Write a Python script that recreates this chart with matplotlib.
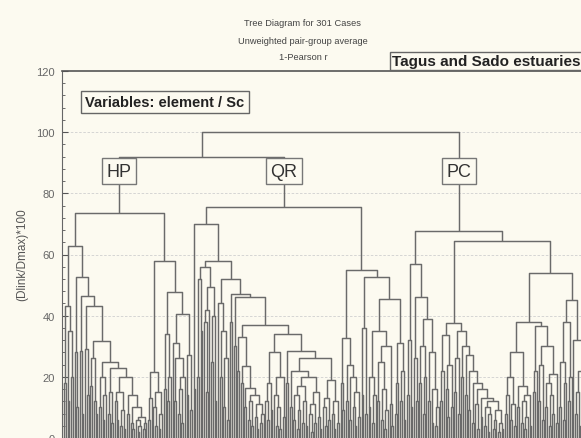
import matplotlib
matplotlib.use("Agg")
import matplotlib.pyplot as plt
import numpy as np
from matplotlib.collections import LineCollection
from matplotlib.ticker import MultipleLocator

plt.rcParams["font.family"] = ["Liberation Sans", "DejaVu Sans"]

# merge height between neighbouring leaves
hp_gaps = [18, 43, 12, 35, 20, 62.7, 28, 10, 52.6, 28.6,
           8, 46.5, 29, 14, 43, 17, 26, 12, 8, 31.8,
           10, 20, 6, 14, 25, 8, 15, 5, 23, 12,
           6, 15, 4, 9, 3, 20, 8, 14, 5, 3,
           10, 6, 2, 4, 7, 3, 5, 73.5, 6, 13,
           21.5, 10, 4, 15, 3, 8, 58, 16, 34, 12,
           20, 47.6, 31, 12, 26, 8, 16, 5, 20, 40.5,
           14, 27, 9]
qr_gaps = [16, 70, 20, 52, 35, 56, 38, 15, 42, 49.5,
           25, 40, 12, 58, 44, 20, 35, 10, 26, 6,
           52, 38, 47, 30, 46, 22, 33, 18, 23.5, 10,
           16.5, 6, 12, 4, 14, 7, 3, 11, 5, 8,
           37, 12, 6, 18, 9, 28, 14, 4, 10, 3,
           20, 7, 34, 18, 28.5, 10, 22, 6, 14, 3,
           9, 17, 5, 12, 4, 20, 8, 2, 11, 5,
           15, 7, 3, 26, 10, 4, 13, 6, 19, 8,
           3, 12, 5, 75.5, 18, 9, 32.7, 12, 24, 6,
           20, 10, 4, 15, 7, 55, 14, 36, 8, 52.6,
           10, 20, 5, 14, 35, 12, 25, 6, 16, 3,
           9, 30, 11, 4, 45.4, 8, 18, 31, 12, 22,
           6]
pc_gaps = [14, 32, 10, 57, 26, 12, 46, 18, 30, 8,
           20, 39, 12, 28, 5, 16, 4, 10, 67.6, 12,
           22, 33.6, 16, 7, 24, 10, 37.6, 15, 26, 8,
           35, 20, 30, 14, 27, 9, 22, 5, 18, 11,
           3, 16, 7, 13, 4, 10, 2, 8, 12, 3,
           6, 9, 2, 5, 3, 64.4, 8, 14, 20, 6,
           11, 4, 28, 10, 17, 5, 12, 3, 7, 14,
           4, 38, 15, 22, 36.6, 12, 24, 6, 30, 10,
           18, 4, 14, 8, 21, 5, 54, 10, 25, 6,
           18, 38, 12, 20, 45, 32, 8, 15, 4, 22,
           10, 3, 12, 6]
group_gaps = [92, 100]
group_labels = ["HP", "QR", "PC"]
title_lines = ["Tree Diagram for 301 Cases", "Unweighted pair-group average", "1-Pearson r"]

gaps = hp_gaps + [group_gaps[0]] + qr_gaps + [group_gaps[1]] + pc_gaps
n_leaves = len(gaps) + 1

segments = []
centers = {}


def build(lo, hi):
    if lo == hi:
        return float(lo), 0.0
    k = lo + int(np.argmax(gaps[lo:hi]))
    xl, hl = build(lo, k)
    xr, hr = build(k + 1, hi)
    h = gaps[k]
    segments.append([(xl, hl), (xl, h), (xr, h), (xr, hr)])
    centers[(lo, hi)] = (xl + xr) / 2
    return (xl + xr) / 2, h


build(0, n_leaves - 1)

bg = "#fcfaf0"
fig = plt.figure(figsize=(5.81, 4.39), dpi=100, facecolor=bg)
ax = fig.add_axes([62 / 581, 0, 540 / 581, 367 / 439], facecolor=bg)

ax.add_collection(LineCollection(segments, colors="#6a6a6a", linewidths=1.05, zorder=3))

x0 = -2 / 1.75
ax.set_xlim(x0, x0 + 540 / 1.75)
ax.set_ylim(0, 120)

ax.yaxis.set_major_locator(MultipleLocator(20))
ax.yaxis.set_minor_locator(MultipleLocator(4))
ax.tick_params(axis="y", which="both", direction="in", colors="#555555",
               labelsize=8, labelcolor="#666666", pad=5)
ax.tick_params(axis="y", which="major", length=4)
ax.tick_params(axis="y", which="minor", length=2.5)
ax.set_xticks([])
for y in range(20, 120, 20):
    ax.axhline(y, color="#cfcfcf", lw=0.6, ls=(0, (3, 2)), zorder=1)

ax.spines["bottom"].set_visible(False)
ax.spines["right"].set_visible(False)
ax.spines["left"].set_color("#666666")
ax.spines["top"].set_color("#555555")
ax.spines["top"].set_linestyle((0, (2, 1)))
ax.spines["top"].set_linewidth(1.2)

# group boxes sit on the top vertical of each group
bounds = [0, len(hp_gaps), len(hp_gaps) + 1 + len(qr_gaps), n_leaves - 1]
ranges = [(bounds[0], bounds[1]), (bounds[1] + 1, bounds[2]), (bounds[2] + 1, bounds[3])]
for label, rg in zip(group_labels, ranges):
    ax.text(centers[rg], 87.3, label, ha="center", va="center", fontsize=13,
            color="#333333", zorder=5,
            bbox=dict(boxstyle="square,pad=0.25", fc=bg, ec="#777777", lw=1))

for i, line in enumerate(title_lines):
    fig.text(303 / 581, 1 - (24 + 17 * i) / 439, line, ha="center", va="center",
             fontsize=6.7, color="#444444")

fig.text(22 / 581, 1 - 255 / 439, "(Dlink/Dmax)*100", rotation=90, ha="center",
         va="center", fontsize=8.5, color="#555555")

fig.text(392 / 581, 1 - 62 / 439, "Tagus and Sado estuaries", ha="left", va="center",
         fontsize=11, fontweight="bold", color="#222222",
         bbox=dict(boxstyle="square,pad=0.15", fc=bg, ec="#666666", lw=1))
fig.text(85 / 581, 1 - 103 / 439, "Variables: element / Sc", ha="left", va="center",
         fontsize=10.5, fontweight="bold", color="#222222",
         bbox=dict(boxstyle="square,pad=0.3", fc=bg, ec="#666666", lw=1))

fig.savefig("out.png", dpi=100, facecolor=bg)
